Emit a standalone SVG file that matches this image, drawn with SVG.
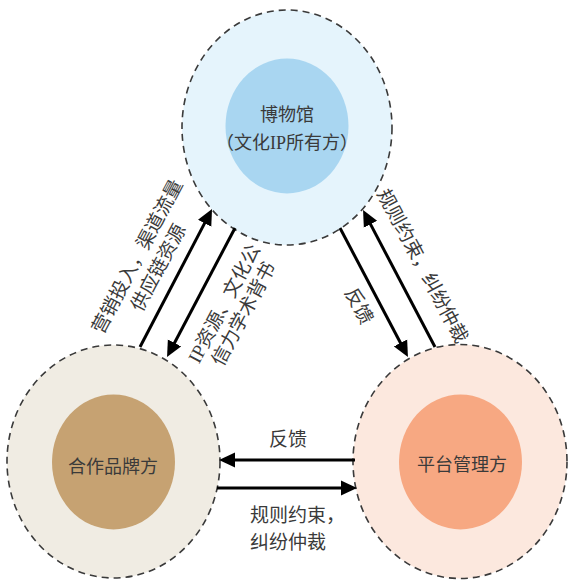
<svg xmlns="http://www.w3.org/2000/svg" width="570" height="582" viewBox="0 0 570 582">
<style>
.outer{stroke:#3a3a3a;stroke-width:1.6;stroke-dasharray:7 5}
.t{font-family:"Liberation Serif","Noto Sans CJK SC",serif;fill:#3a3a3a;text-anchor:middle;dominant-baseline:central}
.n{font-size:18px}
.l{font-size:19px}
.halt{font-feature-settings:"halt"}
.arr{stroke:#000;stroke-width:3;fill:none;marker-end:url(#ah)}
</style>
<defs>
<marker id="ah" markerUnits="userSpaceOnUse" markerWidth="17" markerHeight="16" refX="6" refY="7.5" orient="auto" viewBox="0 0 17 15">
<path d="M0,0 L16,7.5 L0,15 z" fill="#000"/>
</marker>
</defs>
<rect width="570" height="582" fill="#fff"/>
<g id="museum">
<ellipse class="outer" cx="287" cy="127.5" rx="105" ry="117.5" fill="#e5f4fc"/>
<ellipse cx="287" cy="126" rx="61.5" ry="67.5" fill="#a9d6f1"/>
<text class="t n" x="287" y="115">博物馆</text>
<text class="t n halt" x="287" y="143">（文化IP所有方）</text>
</g>
<g id="brand">
<ellipse class="outer" cx="113.5" cy="461.5" rx="106.5" ry="116.5" fill="#f0ece3"/>
<ellipse cx="113.5" cy="462" rx="61.5" ry="67.5" fill="#c6a272"/>
<text class="t n" x="113" y="467">合作品牌方</text>
</g>
<g id="platform">
<ellipse class="outer" cx="460" cy="461.5" rx="107" ry="117" fill="#fce8de"/>
<ellipse cx="460.5" cy="462" rx="61.5" ry="67.5" fill="#f7a882"/>
<text class="t n" x="462" y="465">平台管理方</text>
</g>
<g id="connectors">
<line class="arr" x1="140" y1="347" x2="207.4" y2="217.9"/>
<line class="arr" x1="235" y1="228" x2="171.7" y2="348.2"/>
<line class="arr" x1="340" y1="228" x2="403.3" y2="348.2"/>
<line class="arr" x1="435" y1="347" x2="367.7" y2="218.9"/>
<line class="arr" x1="355" y1="460" x2="229" y2="460"/>
<line class="arr" x1="217" y1="488" x2="347" y2="488"/>
</g>
<g id="labels">
<g transform="translate(147.8,262) rotate(-62)">
<text class="t l" x="0" y="-12">营销投入，渠道流量</text>
<text class="t l" x="0" y="12">供应链资源</text>
</g>
<g transform="translate(233.8,308.7) rotate(-62)">
<text class="t l" x="0" y="-11">IP资源、文化公</text>
<text class="t l" x="0" y="11">信力学术背书</text>
</g>
<g transform="translate(422.5,266) rotate(62)">
<text class="t l" x="0" y="0">规则约束，纠纷仲裁</text>
</g>
<g transform="translate(359,306) rotate(62)">
<text class="t l" x="0" y="0">反馈</text>
</g>
<text class="t l" x="288" y="439">反馈</text>
<text class="t l" x="250" y="515" style="text-anchor:start">规则约束，</text>
<text class="t l" x="250" y="542" style="text-anchor:start">纠纷仲裁</text>
</g>
</svg>
